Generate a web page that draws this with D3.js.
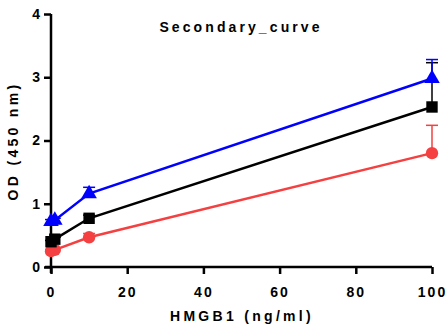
<!DOCTYPE html>
<html><head><meta charset="utf-8">
<script src="https://cdn.jsdelivr.net/npm/d3@7"></script>
<style>
body{margin:0;background:#fff;}
text{font-family:"Liberation Sans",Arial,sans-serif;font-weight:bold;}
</style></head>
<body><svg width="448" height="328"></svg>
<script>
// concentrations
var conc = [0, 1, 10, 100];
// OD values per series
var blackVals = [0.40, 0.44, 0.77, 2.53];
var blackErr  = [0.02, 0.03, 0.05, 0.70];
var blueVals  = [0.72, 0.74, 1.16, 2.98];
var blueErr   = [0.03, 0.03, 0.10, 0.30];
var redVals   = [0.25, 0.27, 0.47, 1.80];
var redErr    = [0.02, 0.02, 0.06, 0.44];
var xTicks = [0, 20, 40, 60, 80, 100];
var yTicks = [0, 1, 2, 3, 4];

var svg = d3.select("svg");
var x = d3.scaleLinear().domain([0, 100]).range([51, 432]);
var y = d3.scaleLinear().domain([0, 4]).range([267, 14]);

// axes
var xAxis = svg.append("g").attr("transform", "translate(0,267)")
    .call(d3.axisBottom(x).tickValues(xTicks).tickFormat(d3.format("d")).tickSize(7).tickSizeOuter(0));
xAxis.select(".domain").attr("d", "M45,0H432").attr("stroke-width", 2.5);
xAxis.selectAll(".tick line").attr("stroke-width", 2.5);
xAxis.selectAll("text").attr("font-size", 14).attr("dy", "1.4em").attr("letter-spacing", 2).attr("fill", "#000");

var yAxis = svg.append("g").attr("transform", "translate(51,0)")
    .call(d3.axisLeft(y).tickValues(yTicks).tickFormat(d3.format("d")).tickSize(7).tickSizeOuter(0));
yAxis.select(".domain").attr("d", "M0,14V273").attr("stroke-width", 2.5);
yAxis.selectAll(".tick line").attr("stroke-width", 2.5);
yAxis.selectAll("text").attr("font-size", 14).attr("x", -11).attr("fill", "#000");

var series = [
  {vals: redVals, err: redErr, color: "#f44040", shape: d3.symbolCircle, size: 120},
  {vals: blackVals, err: blackErr, color: "#000", shape: d3.symbolSquare, size: 130},
  {vals: blueVals, err: blueErr, color: "#0000ff", shape: d3.symbolTriangle, size: 105}
];

series.forEach(function(s) {
  var pts = conc.map(function(c, i){ return {x: c, y: s.vals[i], e: s.err[i]}; });
  var g = svg.append("g");
  // error bars (upper only)
  pts.forEach(function(p) {
    g.append("line").attr("x1", x(p.x)).attr("x2", x(p.x))
      .attr("y1", y(p.y)).attr("y2", y(p.y + p.e))
      .attr("stroke", s.color).attr("stroke-width", 1.5);
    g.append("line").attr("x1", x(p.x) - 6).attr("x2", x(p.x) + 6)
      .attr("y1", y(p.y + p.e)).attr("y2", y(p.y + p.e))
      .attr("stroke", s.color).attr("stroke-width", 1.5);
  });
  g.append("path").datum(pts)
    .attr("d", d3.line().x(function(d){ return x(d.x); }).y(function(d){ return y(d.y); }))
    .attr("fill", "none").attr("stroke", s.color).attr("stroke-width", 2.5);
  g.selectAll(".pt").data(pts).enter().append("path")
    .attr("transform", function(d){ return "translate(" + x(d.x) + "," + y(d.y) + ")"; })
    .attr("d", d3.symbol().type(s.shape).size(s.size))
    .attr("fill", s.color);
});

svg.append("text").attr("x", 241).attr("y", 32).attr("text-anchor", "middle")
  .attr("font-size", 14).attr("letter-spacing", 3.1).text("Secondary_curve");
svg.append("text").attr("x", 242).attr("y", 321).attr("text-anchor", "middle")
  .attr("font-size", 14).attr("letter-spacing", 3.3).text("HMGB1 (ng/ml)");
svg.append("text").attr("transform", "translate(18,141) rotate(-90)").attr("text-anchor", "middle")
  .attr("font-size", 14).attr("letter-spacing", 3.3).text("OD (450 nm)");
</script></body></html>
